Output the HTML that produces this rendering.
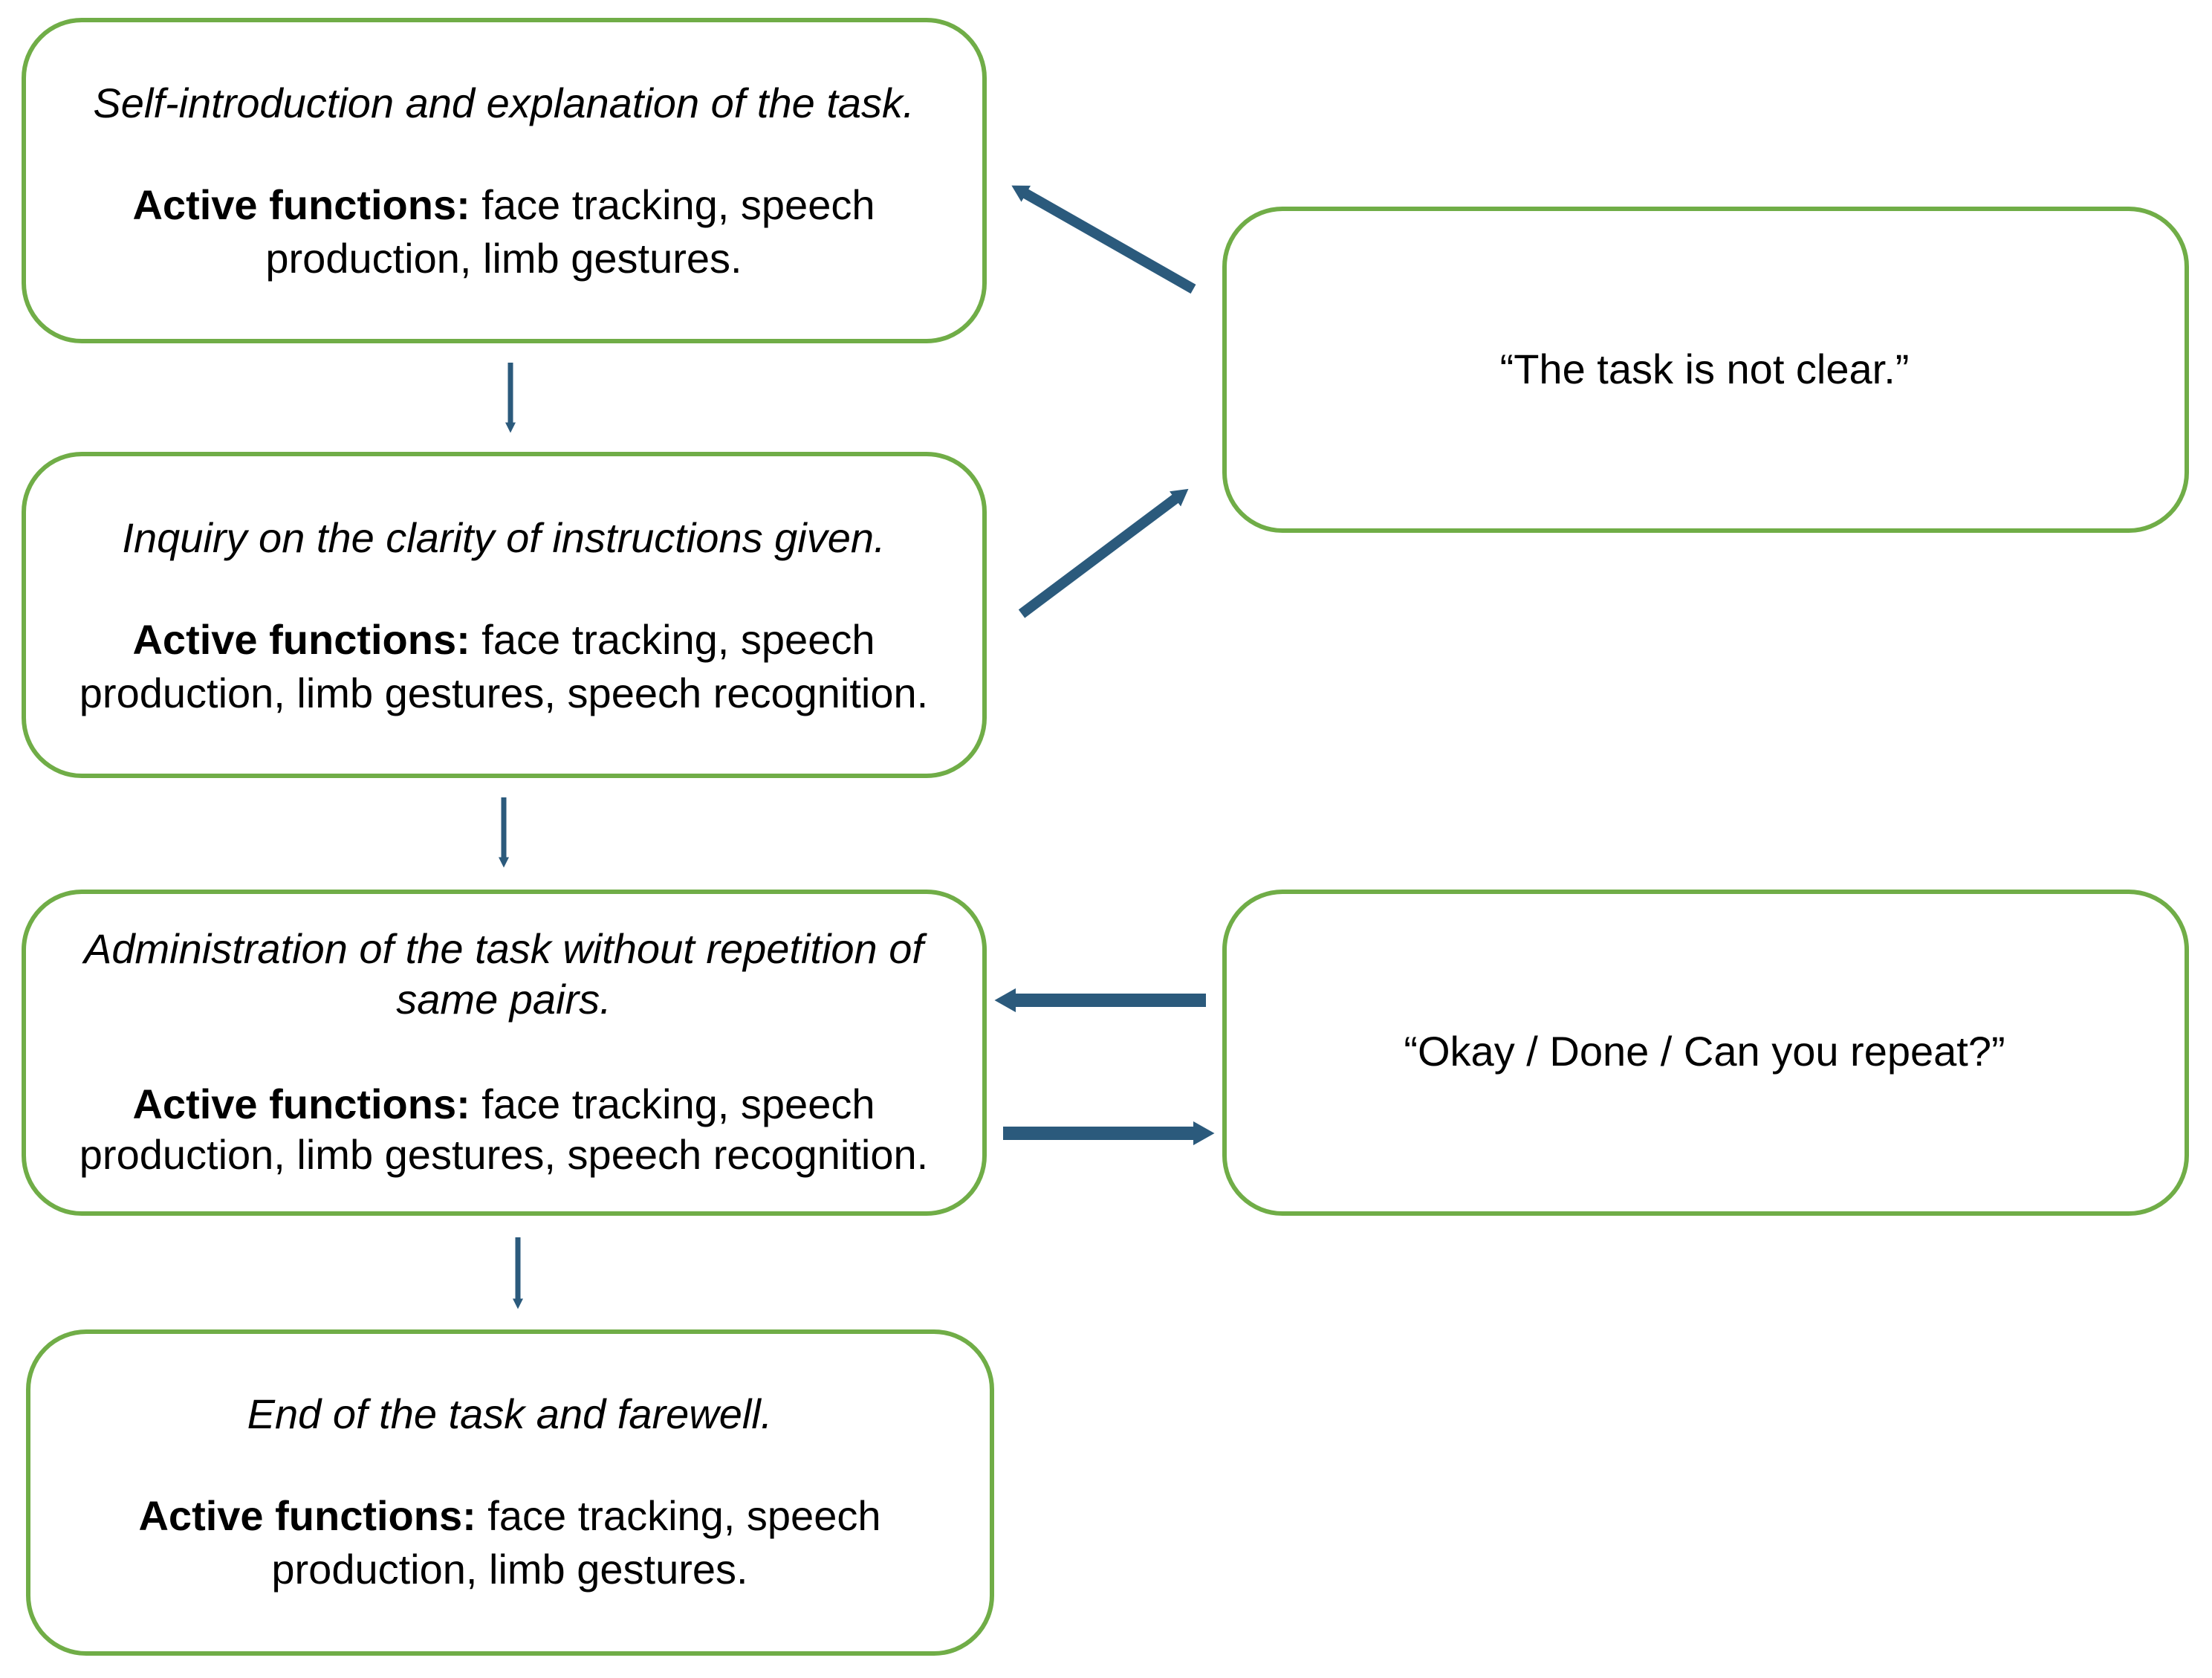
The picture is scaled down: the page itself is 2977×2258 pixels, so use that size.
<!DOCTYPE html>
<html><head><meta charset="utf-8"><style>
html,body{margin:0;padding:0;background:#fff;}
svg{display:block;}
text{font-family:"Liberation Sans",sans-serif;font-size:56px;fill:#000;}
.i{font-style:italic;}
.b{font-weight:bold;}
</style></head><body>
<svg width="2977" height="2258" viewBox="0 0 2977 2258" xmlns="http://www.w3.org/2000/svg">
<defs>
<marker id="ah" markerWidth="1.6" markerHeight="1.8" refX="0.4" refY="0.9" orient="auto" markerUnits="strokeWidth">
<path d="M0,0 L1.6,0.9 L0,1.8 Z" fill="#2b5a7c"/>
</marker>
<marker id="ahs" markerWidth="2" markerHeight="2" refX="0.5" refY="1" orient="auto" markerUnits="strokeWidth">
<path d="M0,0 L2,1 L0,2 Z" fill="#2b5a7c"/>
</marker>
</defs>
<g fill="#fff" stroke="#70ad47" stroke-width="6">
<rect x="32" y="27" width="1293" height="432" rx="78"/>
<rect x="32" y="611" width="1293" height="433" rx="78"/>
<rect x="32" y="1200" width="1293" height="433" rx="78"/>
<rect x="38" y="1792" width="1297" height="433" rx="78"/>
<rect x="1648" y="281" width="1295" height="433" rx="78"/>
<rect x="1648" y="1200" width="1295" height="433" rx="78"/>
</g>
<g stroke="#2b5a7c" fill="none">
<line x1="687" y1="488" x2="687" y2="572" stroke-width="7" marker-end="url(#ahs)"/>
<line x1="678" y1="1073" x2="678" y2="1157" stroke-width="7" marker-end="url(#ahs)"/>
<line x1="697" y1="1665" x2="697" y2="1751" stroke-width="7" marker-end="url(#ahs)"/>
<line x1="1606" y1="389" x2="1376" y2="258" stroke-width="14" marker-end="url(#ah)"/>
<line x1="1375" y1="826" x2="1586" y2="668" stroke-width="14" marker-end="url(#ah)"/>
<line x1="1623" y1="1346" x2="1360" y2="1346" stroke-width="18" marker-end="url(#ah)"/>
<line x1="1350" y1="1525" x2="1613" y2="1525" stroke-width="18" marker-end="url(#ah)"/>
</g>
<g text-anchor="middle">
<text x="678" y="158" class="i">Self-introduction and explanation of the task.</text>
<text x="678" y="295"><tspan class="b">Active functions:</tspan> face tracking, speech</text>
<text x="678" y="367">production, limb gestures.</text>

<text x="678" y="743" class="i">Inquiry on the clarity of instructions given.</text>
<text x="678" y="880"><tspan class="b">Active functions:</tspan> face tracking, speech</text>
<text x="678" y="952">production, limb gestures, speech recognition.</text>

<text x="678" y="1296" class="i">Administration of the task without repetition of</text>
<text x="678" y="1364" class="i">same pairs.</text>
<text x="678" y="1505"><tspan class="b">Active functions:</tspan> face tracking, speech</text>
<text x="678" y="1573">production, limb gestures, speech recognition.</text>

<text x="686" y="1922" class="i">End of the task and farewell.</text>
<text x="686" y="2059"><tspan class="b">Active functions:</tspan> face tracking, speech</text>
<text x="686" y="2131">production, limb gestures.</text>

<text x="2294" y="516">“The task is not clear.”</text>
<text x="2294" y="1434">“Okay / Done / Can you repeat?”</text>
</g>
</svg>
</body></html>
